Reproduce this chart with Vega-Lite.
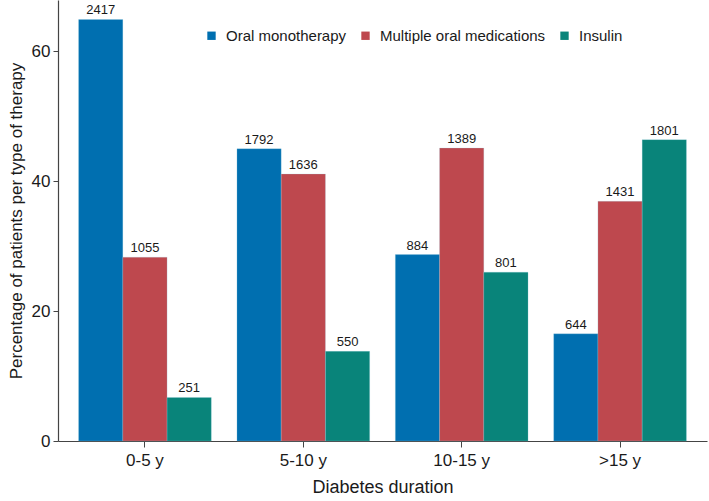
{
  "$schema": "https://vega.github.io/schema/vega-lite/v6.json",
  "width": 649,
  "height": 441,
  "autosize": {"type": "none"},
  "padding": {"left": 58, "top": 0, "right": 2, "bottom": 60},
  "background": "white",
  "config": {
    "view": {"stroke": null},
    "font": "Liberation Sans",
    "axis": {"domainColor": "#444444", "tickColor": "#444444", "labelColor": "#1a1a1a", "titleColor": "#1a1a1a", "grid": false, "labelFont": "Liberation Sans", "titleFont": "Liberation Sans", "titleFontWeight": "normal"}
  },
  "data": {
    "values": [
      {"duration": "0-5 y", "therapy": "Oral monotherapy", "pct": 64.9, "n": 2417},
      {"duration": "0-5 y", "therapy": "Multiple oral medications", "pct": 28.3, "n": 1055},
      {"duration": "0-5 y", "therapy": "Insulin", "pct": 6.7, "n": 251},
      {"duration": "5-10 y", "therapy": "Oral monotherapy", "pct": 45.0, "n": 1792},
      {"duration": "5-10 y", "therapy": "Multiple oral medications", "pct": 41.1, "n": 1636},
      {"duration": "5-10 y", "therapy": "Insulin", "pct": 13.8, "n": 550},
      {"duration": "10-15 y", "therapy": "Oral monotherapy", "pct": 28.7, "n": 884},
      {"duration": "10-15 y", "therapy": "Multiple oral medications", "pct": 45.1, "n": 1389},
      {"duration": "10-15 y", "therapy": "Insulin", "pct": 26.0, "n": 801},
      {"duration": ">15 y", "therapy": "Oral monotherapy", "pct": 16.5, "n": 644},
      {"duration": ">15 y", "therapy": "Multiple oral medications", "pct": 36.9, "n": 1431},
      {"duration": ">15 y", "therapy": "Insulin", "pct": 46.4, "n": 1801}
    ]
  },
  "encoding": {
    "x": {
      "field": "duration", "type": "nominal", "sort": ["0-5 y", "5-10 y", "10-15 y", ">15 y"],
      "scale": {"paddingInner": 0.162, "paddingOuter": 0.13},
      "axis": {"title": "Diabetes duration", "labelAngle": 0, "labelFontSize": 17, "titleFontSize": 18, "tickSize": 6, "labelPadding": 5, "titlePadding": 10, "domainWidth": 1.2}
    },
    "xOffset": {"field": "therapy", "type": "nominal", "sort": ["Oral monotherapy", "Multiple oral medications", "Insulin"]},
    "y": {
      "field": "pct", "type": "quantitative",
      "scale": {"domain": [0, 67.9], "nice": false},
      "axis": {"title": "Percentage of patients per type of therapy", "values": [0, 20, 40, 60], "labelFontSize": 17, "titleFontSize": 17, "tickSize": 5, "labelPadding": 3, "titlePadding": 6, "domainWidth": 1.2}
    }
  },
  "layer": [
    {
      "mark": {"type": "bar", "stroke": "#9ad0e0", "strokeWidth": 0.6, "strokeOpacity": 0.4},
      "encoding": {
        "color": {
          "field": "therapy", "type": "nominal",
          "sort": ["Oral monotherapy", "Multiple oral medications", "Insulin"],
          "scale": {"domain": ["Oral monotherapy", "Multiple oral medications", "Insulin"], "range": ["#006fb0", "#be484e", "#09847a"]},
          "legend": {
            "title": null, "orient": "none", "direction": "horizontal", "legendX": 146, "legendY": 28,
            "symbolType": "square", "symbolSize": 70, "symbolStrokeWidth": 0, "labelFontSize": 15, "labelFont": "Liberation Sans", "labelColor": "#1a1a1a", "labelOffset": 7, "labelLimit": 0, "columnPadding": 11
          }
        }
      }
    },
    {
      "mark": {"type": "text", "baseline": "bottom", "dy": -2, "fontSize": 13, "color": "#1a1a1a"},
      "encoding": {"text": {"field": "n", "type": "quantitative", "format": "d"}}
    }
  ]
}
